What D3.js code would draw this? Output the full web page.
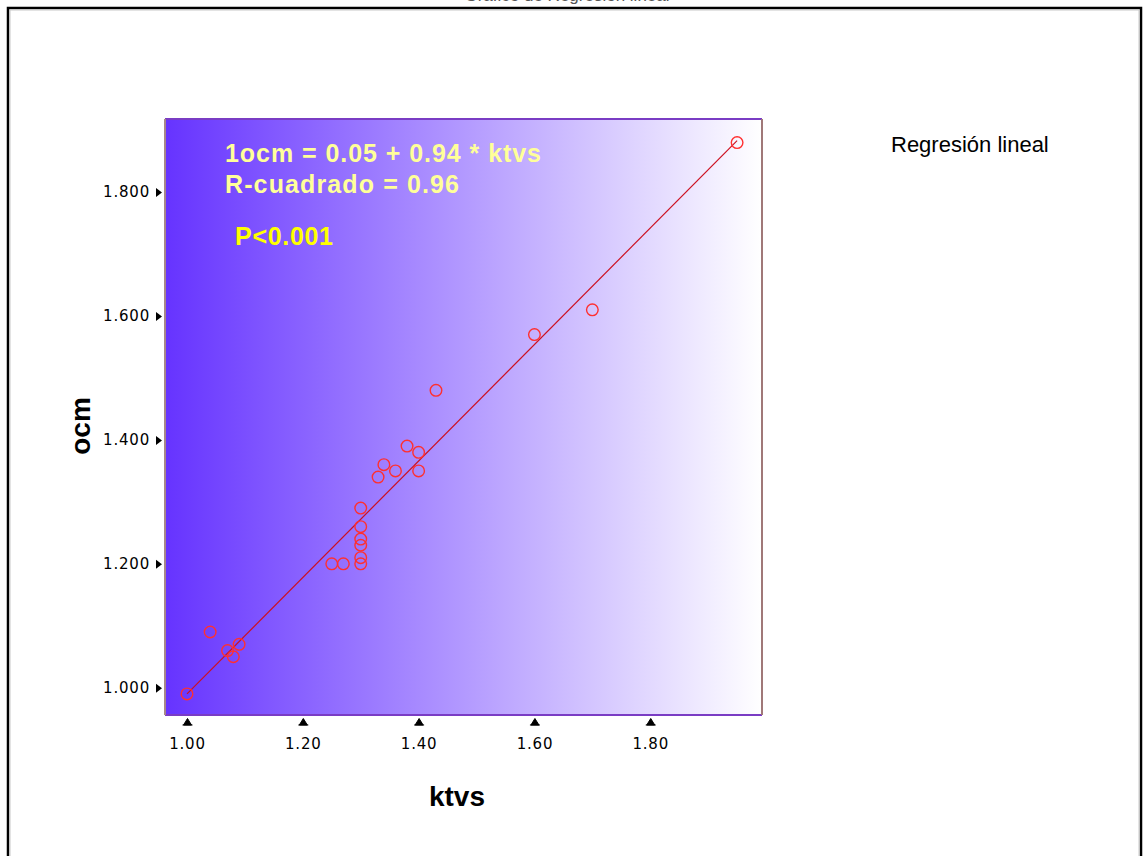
<!DOCTYPE html>
<html>
<head>
<meta charset="utf-8">
<script src="https://cdn.jsdelivr.net/npm/d3@7"></script>
<style>
  body { margin: 0; background: #fff; }
  svg { display: block; }
</style>
</head>
<body>
<div id="chart"></div>
<script>
// data
const ktvs = [1.00, 1.04, 1.07, 1.09, 1.08, 1.25, 1.27, 1.30, 1.30, 1.30, 1.30, 1.30, 1.30,
              1.33, 1.34, 1.36, 1.38, 1.40, 1.40, 1.43, 1.60, 1.70, 1.95];
const ocm = [0.99, 1.09, 1.06, 1.07, 1.05, 1.20, 1.20, 1.20, 1.21, 1.23, 1.24, 1.26, 1.29,
             1.34, 1.36, 1.35, 1.39, 1.38, 1.35, 1.48, 1.57, 1.61, 1.88];
const xTicks = [1.0, 1.2, 1.4, 1.6, 1.8];
const yTicks = [1.0, 1.2, 1.4, 1.6, 1.8];
const intercept = 0.05, slope = 0.94;
const fitLines = ["1ocm = 0.05 + 0.94 * ktvs", "R-cuadrado = 0.96"];
const pText = "P<0.001";

const W = 1146, H = 856;
const plot = { left: 165, right: 762, top: 119, bottom: 715 };

const svg = d3.select("#chart").append("svg")
    .attr("width", W)
    .attr("height", H);

// outer frame (runs past the bottom edge)
svg.append("rect")
    .attr("x", 8).attr("y", 8)
    .attr("width", 1133).attr("height", 900)
    .attr("fill", "none")
    .attr("stroke", "#000")
    .attr("stroke-width", 2.5);
svg.append("rect")
    .attr("x", 10).attr("y", 10)
    .attr("width", 1129).attr("height", 900)
    .attr("fill", "none")
    .attr("stroke", "#c8c8c8")
    .attr("stroke-width", 1);

// title, only its lowest pixels show at the top edge
svg.append("text")
    .attr("x", 567).attr("y", 1)
    .attr("text-anchor", "middle")
    .attr("font-family", "Liberation Sans, Arial, sans-serif")
    .attr("font-size", 17)
    .attr("fill", "#555")
    .text("Gráfico de Regresión lineal");

// scales
const x = d3.scaleLinear().domain([0.962, 1.993]).range([plot.left, plot.right]);
const y = d3.scaleLinear().domain([0.956, 1.918]).range([plot.bottom, plot.top]);

// background gradient
const defs = svg.append("defs");
const grad = defs.append("linearGradient")
    .attr("id", "bg")
    .attr("x1", "0%").attr("x2", "100%")
    .attr("y1", "0%").attr("y2", "0%");
grad.append("stop").attr("offset", "0%").attr("stop-color", "rgb(102,51,255)");
grad.append("stop").attr("offset", "100%").attr("stop-color", "#ffffff");

svg.append("rect")
    .attr("x", plot.left).attr("y", plot.top)
    .attr("width", plot.right - plot.left)
    .attr("height", plot.bottom - plot.top)
    .attr("fill", "url(#bg)");

// plot border
svg.append("line")
    .attr("x1", plot.left).attr("x2", plot.right)
    .attr("y1", plot.top).attr("y2", plot.top)
    .attr("stroke", "#7a3cc4").attr("stroke-width", 2);
svg.append("line")
    .attr("x1", plot.left).attr("x2", plot.right)
    .attr("y1", plot.bottom).attr("y2", plot.bottom)
    .attr("stroke", "#7a3cc4").attr("stroke-width", 2);
svg.append("line")
    .attr("x1", plot.left).attr("x2", plot.left)
    .attr("y1", plot.top).attr("y2", plot.bottom)
    .attr("stroke", "#a88888").attr("stroke-width", 2);
svg.append("line")
    .attr("x1", plot.right).attr("x2", plot.right)
    .attr("y1", plot.top).attr("y2", plot.bottom)
    .attr("stroke", "#a07878").attr("stroke-width", 2);

// axes: labels from d3.axis, tick marks as little triangles
const yAxis = svg.append("g")
    .attr("transform", `translate(${plot.left - 2},0)`)
    .call(d3.axisLeft(y).tickValues(yTicks).tickFormat(d3.format(".3f")).tickSize(0).tickPadding(13));
yAxis.select(".domain").remove();
yAxis.selectAll("text")
    .attr("font-family", "DejaVu Sans, sans-serif")
    .attr("font-size", 15)
    .attr("letter-spacing", 0.8)
    .attr("fill", "#000");
yAxis.selectAll(".tick").append("path")
    .attr("d", "M-7,-4.5L-1,0L-7,4.5Z")
    .attr("fill", "#000");

const xAxis = svg.append("g")
    .attr("transform", `translate(0,${plot.bottom + 2})`)
    .call(d3.axisBottom(x).tickValues(xTicks).tickFormat(d3.format(".2f")).tickSize(0).tickPadding(21));
xAxis.select(".domain").remove();
xAxis.selectAll("text")
    .attr("font-family", "DejaVu Sans, sans-serif")
    .attr("font-size", 15)
    .attr("letter-spacing", 0.8)
    .attr("fill", "#000");
xAxis.selectAll(".tick").append("path")
    .attr("d", "M-4,8L0,1.5L4,8Z M-5,8L5,8")
    .attr("fill", "#000")
    .attr("stroke", "#000")
    .attr("stroke-width", 1);

// axis titles
svg.append("text")
    .attr("x", 457).attr("y", 806)
    .attr("text-anchor", "middle")
    .attr("font-family", "Liberation Sans, Arial, sans-serif")
    .attr("font-weight", "bold")
    .attr("font-size", 28)
    .text("ktvs");

svg.append("text")
    .attr("transform", "translate(90,426) rotate(-90)")
    .attr("text-anchor", "middle")
    .attr("font-family", "Liberation Sans, Arial, sans-serif")
    .attr("font-weight", "bold")
    .attr("font-size", 28)
    .text("ocm");

// regression line over the range of the data
const xr = d3.extent(ktvs);
svg.append("line")
    .attr("x1", x(xr[0])).attr("y1", y(intercept + slope * xr[0]))
    .attr("x2", x(xr[1])).attr("y2", y(intercept + slope * xr[1]))
    .attr("stroke", "#cc1020")
    .attr("stroke-width", 1.2);

// points
const pts = ktvs.map((k, i) => ({ k: k, o: ocm[i] }));
svg.selectAll(".pt")
    .data(pts)
    .enter().append("circle")
    .attr("class", "pt")
    .attr("cx", d => x(d.k))
    .attr("cy", d => y(d.o))
    .attr("r", 5.8)
    .attr("fill", "none")
    .attr("stroke", "#ff3030")
    .attr("stroke-width", 1.4);

// fit annotation
fitLines.forEach((t, i) => {
    svg.append("text")
        .attr("x", 225).attr("y", 162 + i * 31)
        .attr("font-family", "Liberation Sans, Arial, sans-serif")
        .attr("font-weight", "bold")
        .attr("font-size", 25)
        .attr("fill", "#ffff99")
        .attr("textLength", i === 0 ? 316 : 234)
        .attr("lengthAdjust", "spacing")
        .text(t);
});
svg.append("text")
    .attr("x", 235).attr("y", 245)
    .attr("font-family", "Liberation Sans, Arial, sans-serif")
    .attr("font-weight", "bold")
    .attr("font-size", 25)
    .attr("fill", "#ffff00")
    .attr("textLength", 98)
    .attr("lengthAdjust", "spacing")
    .text(pText);

// legend text
svg.append("text")
    .attr("x", 891).attr("y", 152)
    .attr("font-family", "Liberation Sans, Arial, sans-serif")
    .attr("font-size", 22)
    .attr("fill", "#000")
    .text("Regresión lineal");
</script>
</body>
</html>
